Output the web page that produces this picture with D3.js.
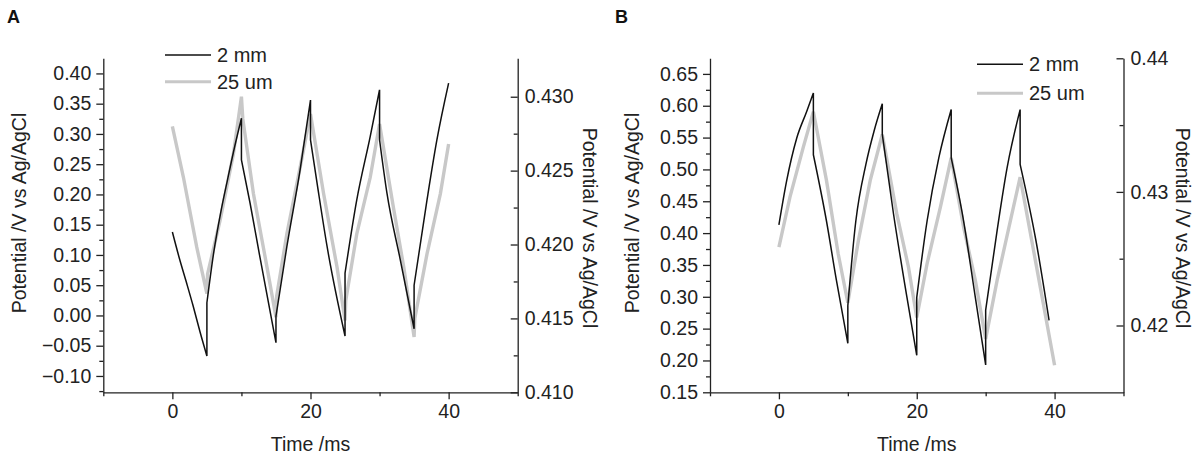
<!DOCTYPE html>
<html>
<head>
<meta charset="utf-8">
<script src="https://cdn.jsdelivr.net/npm/d3@7"></script>
<style>
	body { margin: 0; background: #fff; }
	text { font-family: Arial, "Liberation Sans", sans-serif; }
</style>
</head>
<body>
<div id="chart-area"></div>
<script>
/*
*    two panel chronopotentiometry plot
*/

// series names
var seriesNames = ["2 mm", "25 um"];

// panel A, 2 mm electrode (left axis)
var blackTimeA = [0, 1, 2, 3, 4, 5, 5, 6, 7, 8, 9, 10, 10, 11.26, 12.7, 15, 15, 16.58, 18.5, 20, 20, 21, 22.4, 25, 25, 26.7, 28.65, 30, 30, 31.07, 33, 35, 35, 36.87, 38.3, 40];
var blackPotA = [0.138, 0.095, 0.056, 0.016, -0.027, -0.067, 0.021, 0.105, 0.170, 0.225, 0.278, 0.326, 0.257, 0.185, 0.095, -0.045, -0.001, 0.114, 0.241, 0.356, 0.290, 0.215, 0.114, -0.034, 0.070, 0.191, 0.296, 0.373, 0.290, 0.202, 0.092, -0.022, 0.050, 0.191, 0.290, 0.384];

// panel A, 25 um electrode (right axis)
var grayTimeA = [0, 1.6, 3.53, 5, 5.1, 6.9, 8.84, 10, 10.2, 11.74, 13.7, 15, 15.1, 16.58, 18.5, 20, 21.9, 23.84, 25, 25.1, 26.7, 28.65, 30, 32, 33.5, 35, 35.1, 36.87, 38.8, 40];
var grayPotA = [0.4280, 0.42455, 0.41982, 0.41667, 0.4180, 0.42162, 0.42613, 0.4300, 0.4285, 0.42343, 0.41847, 0.41509, 0.4165, 0.42072, 0.42522, 0.42883, 0.42343, 0.41847, 0.41486, 0.4162, 0.42072, 0.42455, 0.42816, 0.42252, 0.41847, 0.41374, 0.4150, 0.41937, 0.42343, 0.4268];

// panel B, 2 mm electrode (left axis)
var blackTimeB = [0, 1.12, 2.58, 4.03, 5, 5, 6.9, 8.34, 10, 10, 11.16, 12.62, 13.8, 15, 15, 16.63, 18.58, 20, 20, 21.5, 23.2, 25, 25, 26.8, 28.5, 30, 30, 31.66, 33.1, 35, 35, 37.3, 39.2];
var blackPotB = [0.413, 0.482, 0.549, 0.591, 0.620, 0.523, 0.419, 0.326, 0.227, 0.286, 0.419, 0.508, 0.560, 0.603, 0.555, 0.430, 0.299, 0.208, 0.299, 0.419, 0.518, 0.594, 0.518, 0.419, 0.299, 0.193, 0.279, 0.404, 0.502, 0.594, 0.508, 0.388, 0.263];

// panel B, 25 um electrode (right axis)
var grayTimeB = [0, 1.6, 3.54, 5, 6.9, 8.6, 10, 11.54, 13.25, 15, 17.1, 18.8, 20, 21.5, 23.43, 25, 26.8, 28.5, 30, 31.66, 33.6, 35, 37.3, 40];
var grayPotB = [0.42587, 0.42961, 0.43335, 0.43600, 0.43086, 0.42537, 0.42170, 0.42637, 0.43086, 0.43430, 0.42837, 0.42437, 0.42060, 0.42463, 0.42886, 0.43255, 0.42736, 0.42338, 0.41900, 0.42338, 0.42786, 0.43110, 0.42463, 0.41702];

// axis ranges and ticks
var timeDomain = [-10, 50];
var timeTicks = [0, 20, 40];
var timeMinor = [-10, 10, 30, 50];

var leftDomainA = [-0.127, 0.425];
var leftTicksA = [-0.10, -0.05, 0.00, 0.05, 0.10, 0.15, 0.20, 0.25, 0.30, 0.35, 0.40];
var rightDomainA = [0.410, 0.4326];
var rightTicksA = [0.410, 0.415, 0.420, 0.425, 0.430];

var leftDomainB = [0.15, 0.6745];
var leftTicksB = [0.15, 0.20, 0.25, 0.30, 0.35, 0.40, 0.45, 0.50, 0.55, 0.60, 0.65];
var rightDomainB = [0.415, 0.44];
var rightTicksB = [0.42, 0.43, 0.44];

var width = 1200;
var height = 459;
var fontSize = "19.5px";
var axisColor = "#222";

var svg = d3.select("#chart-area").append("svg")
	.attr("width", width)
	.attr("height", height);

function styleAxis(sel) {
	sel.selectAll("path, line")
		.attr("stroke", axisColor)
		.attr("stroke-width", 1.3);
	sel.selectAll("text")
		.attr("font-size", fontSize)
		.attr("font-family", "Arial, 'Liberation Sans', sans-serif")
		.attr("fill", axisColor);
}

// minor ticks halfway between majors
function minorOf(ticks) {
	var out = [];
	for (var i = 0; i < ticks.length - 1; i++) {
		out.push((ticks[i] + ticks[i + 1]) / 2);
	}
	return out;
}

// smooth curve between the vertical jumps, straight line at each jump
function jumpPath(points, line) {
	var parts = [];
	var cur = [points[0]];
	for (var i = 1; i < points.length; i++) {
		if (points[i][0] === points[i - 1][0]) {
			parts.push(cur);
			cur = [];
		}
		cur.push(points[i]);
	}
	parts.push(cur);
	return parts.map((seg, k) => {
		var d = line(seg);
		return k === 0 ? d : "L" + d.slice(1);
	}).join("");
}

function drawPanel(p) {
	var x = d3.scaleLinear().domain(timeDomain).range([p.x0, p.x1]);
	var yL = d3.scaleLinear().domain(p.leftDomain).range([p.y1, p.y0]);
	var yR = d3.scaleLinear().domain(p.rightDomain).range([p.y1, p.y0]);

	//Bottom axis
	svg.append("g")
		.attr("transform", "translate(0, " + p.y1 + ")")
		.call(d3.axisBottom(x).tickValues(timeTicks).tickSize(7).tickSizeOuter(0).tickPadding(5))
		.call(styleAxis);
	svg.append("g")
		.attr("transform", "translate(0, " + p.y1 + ")")
		.call(d3.axisBottom(x).tickValues(timeMinor).tickSize(4).tickFormat(""))
		.call(styleAxis)
		.select(".domain").remove();

	//Left axis
	var lMinor = minorOf(p.leftTicks);
	if (p.leftTicks[p.leftTicks.length - 1] + 0.025 < p.leftDomain[1]) lMinor.push(p.leftTicks[p.leftTicks.length - 1] + 0.025);
	if (p.leftTicks[0] - 0.025 > p.leftDomain[0]) lMinor.unshift(p.leftTicks[0] - 0.025);
	svg.append("g")
		.attr("transform", "translate(" + p.x0 + ", 0)")
		.call(d3.axisLeft(yL).tickValues(p.leftTicks).tickSize(7).tickSizeOuter(0).tickPadding(5)
			.tickFormat(d3.format(".2f")))
		.call(styleAxis);
	svg.append("g")
		.attr("transform", "translate(" + p.x0 + ", 0)")
		.call(d3.axisLeft(yL).tickValues(lMinor).tickSize(4).tickFormat(""))
		.call(styleAxis)
		.select(".domain").remove();

	//Right axis, ticks pointing in
	var rMinor = minorOf(p.rightTicks);
	svg.append("g")
		.attr("transform", "translate(" + p.x1 + ", 0)")
		.call(d3.axisRight(yR).tickValues(p.rightTicks).tickSize(-7).tickSizeOuter(0).tickPadding(7)
			.tickFormat(d3.format(p.rightFormat)))
		.call(styleAxis);
	svg.append("g")
		.attr("transform", "translate(" + p.x1 + ", 0)")
		.call(d3.axisRight(yR).tickValues(rMinor).tickSize(-4).tickFormat(""))
		.call(styleAxis)
		.select(".domain").remove();

	//Curves
	var lineL = d3.line().x((d) => x(d[0])).y((d) => yL(d[1])).curve(d3.curveMonotoneX);
	var lineR = d3.line().x((d) => x(d[0])).y((d) => yR(d[1]));

	svg.append("path")
		.datum(d3.zip(p.grayTime, p.grayPot))
		.attr("fill", "none")
		.attr("stroke", "#c8c8c8")
		.attr("stroke-width", 3.4)
		.attr("stroke-linejoin", "miter")
		.attr("d", lineR);

	svg.append("path")
		.attr("fill", "none")
		.attr("stroke", "#111")
		.attr("stroke-width", 1.5)
		.attr("d", jumpPath(d3.zip(p.blackTime, p.blackPot), lineL));

	//Legend
	var colors = ["#111", "#c8c8c8"];
	var widths = [1.5, 3];
	seriesNames.forEach((name, i) => {
		var ly = p.legY[i];
		svg.append("line")
			.attr("x1", p.legX).attr("x2", p.legX + 46)
			.attr("y1", ly).attr("y2", ly)
			.attr("stroke", colors[i])
			.attr("stroke-width", widths[i]);
		svg.append("text")
			.attr("x", p.legX + 52)
			.attr("y", ly)
			.attr("dy", "0.35em")
			.attr("font-size", "20px")
			.style("fill", axisColor)
			.text(name);
	});

	//Panel letter
	svg.append("text")
		.attr("x", p.letterX)
		.attr("y", 23)
		.attr("font-size", "18px")
		.attr("font-weight", "bold")
		.style("fill", "#111")
		.text(p.letter);

	//Label x-axis
	svg.append("text")
		.attr("x", (p.x0 + p.x1) / 2)
		.attr("y", 451)
		.attr("font-size", fontSize)
		.attr("text-anchor", "middle")
		.style("fill", axisColor)
		.text("Time /ms");

	//Label left y-axis
	svg.append("text")
		.attr("transform", "translate(" + p.leftLabelX + ", 213) rotate(-90)")
		.attr("dy", "0.35em")
		.attr("font-size", fontSize)
		.attr("text-anchor", "middle")
		.style("fill", axisColor)
		.text("Potential /V vs Ag/AgCl");

	//Label right y-axis
	svg.append("text")
		.attr("transform", "translate(" + p.rightLabelX + ", 228) rotate(90)")
		.attr("dy", "0.35em")
		.attr("font-size", fontSize)
		.attr("text-anchor", "middle")
		.style("fill", axisColor)
		.text("Potential /V vs Ag/AgCl");
}

drawPanel({
	letter: "A", letterX: 7,
	x0: 103.3, x1: 517.7, y0: 58.3, y1: 392.3,
	leftDomain: leftDomainA, leftTicks: leftTicksA,
	rightDomain: rightDomainA, rightTicks: rightTicksA,
	rightFormat: ".3f",
	blackTime: blackTimeA, blackPot: blackPotA,
	grayTime: grayTimeA, grayPot: grayPotA,
	legX: 165, legY: [55, 81.7],
	leftLabelX: 19, rightLabelX: 590
});

drawPanel({
	letter: "B", letterX: 615,
	x0: 710, x1: 1123.5, y0: 58.3, y1: 392.3,
	leftDomain: leftDomainB, leftTicks: leftTicksB,
	rightDomain: rightDomainB, rightTicks: rightTicksB,
	rightFormat: ".2f",
	blackTime: blackTimeB, blackPot: blackPotB,
	grayTime: grayTimeB, grayPot: grayPotB,
	legX: 977, legY: [64.3, 93.3],
	leftLabelX: 632, rightLabelX: 1183
});
</script>
</body>
</html>
